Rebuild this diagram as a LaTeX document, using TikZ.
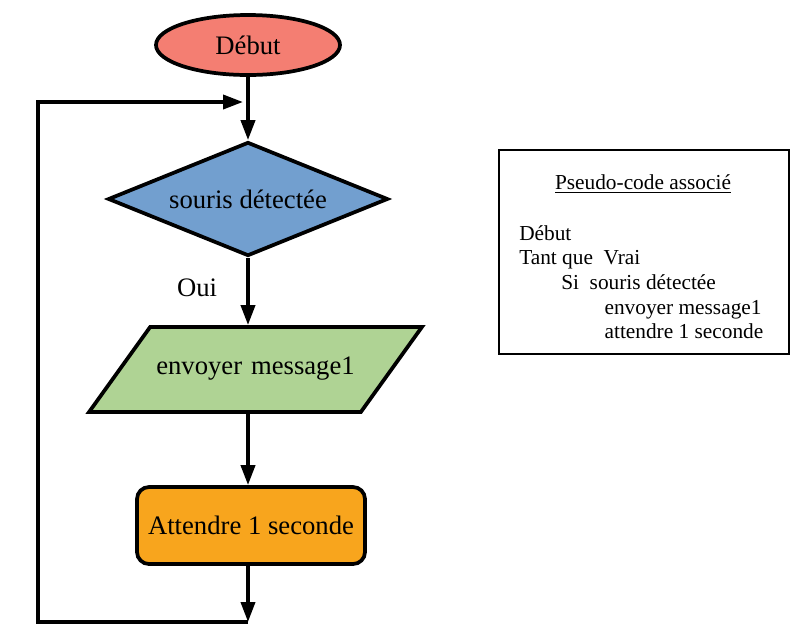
\documentclass[tikz,border=0pt]{standalone}
\usepackage{fontspec}
\setmainfont{Liberation Serif}
\usepackage{tikz}
\usetikzlibrary{shapes.geometric}
\usetikzlibrary{arrows.meta}
\usetikzlibrary{positioning}

\definecolor{rouge}{HTML}{F47E72}
\definecolor{bleu}{HTML}{729FCF}
\definecolor{vert}{HTML}{AFD394}
\definecolor{orange}{HTML}{F8A51D}

\tikzset{
  base/.style={draw,line width=2.8pt,inner sep=0pt,font=\fontsize{20}{24}\selectfont},
  debut node/.style={base,ellipse,fill=rouge,minimum width=138pt,minimum height=45pt},
  test node/.style={base,diamond,aspect=2.45,fill=bleu,minimum width=210pt,minimum height=85.5pt},
  io node/.style={base,trapezium,trapezium left angle=54.3,trapezium right angle=125.7,
    fill=vert,text width=158pt,align=center,text height=14pt,text depth=6pt,
    inner xsep=0pt,inner ysep=21.9pt},
  action node/.style={base,rectangle,rounded corners=9pt,fill=orange,minimum width=171pt,minimum height=57.75pt},
  fleche/.style={line width=2.8pt,-{Triangle[length=15pt,width=10.5pt]}}
}

\begin{document}
\begin{tikzpicture}[x=0.75pt,y=-0.75pt]
  \useasboundingbox (0,0) rectangle (807,637);

  % organigramme
  \node[debut node] (debut) at (248,45) {Début};
  \node[test node] (souris) at (248,199) {souris détectée};
  \node[io node] (envoi) at (255.5,369.5) {envoyer message1};
  \node[action node] (attente) at (251,525.5) {Attendre 1 seconde};
  \node[font=\fontsize{20}{24}\selectfont] (oui) at (197,288) {Oui};

  \coordinate (bas) at (248,622);
  \coordinate (coinbas) at (38,622);
  \coordinate (coinhaut) at (38,102);
  \coordinate (retour) at (243,102);

  \draw[fleche] (debut) -- (souris);
  \draw[fleche] (souris.south) -- (souris.south |- envoi.north);
  \draw[fleche] (souris.south |- envoi.south) -- (attente.north -| souris.south);
  \draw[fleche] (attente.south -| souris.south) -- (bas);
  \draw[fleche] (bas) -- (coinbas) -- (coinhaut) -- (retour);

  % pseudo-code
  \node[draw,line width=1.1pt,minimum width=217.5pt,minimum height=153pt] (pseudo) at (644,252) {};
  \node[font=\fontsize{16}{18.5}\selectfont] (titre) at (643,184) {\underline{Pseudo-code associé}};
  \node[anchor=north west,align=left,inner sep=0pt,font=\fontsize{16}{18.5}\selectfont] (code) at (519,225)
    {Début\\
     Tant que\ \ Vrai\\
     \hspace*{31.5pt}Si\ \ souris détectée\\
     \hspace*{64pt}envoyer message1\\
     \hspace*{64pt}attendre 1 seconde};
\end{tikzpicture}
\end{document}
